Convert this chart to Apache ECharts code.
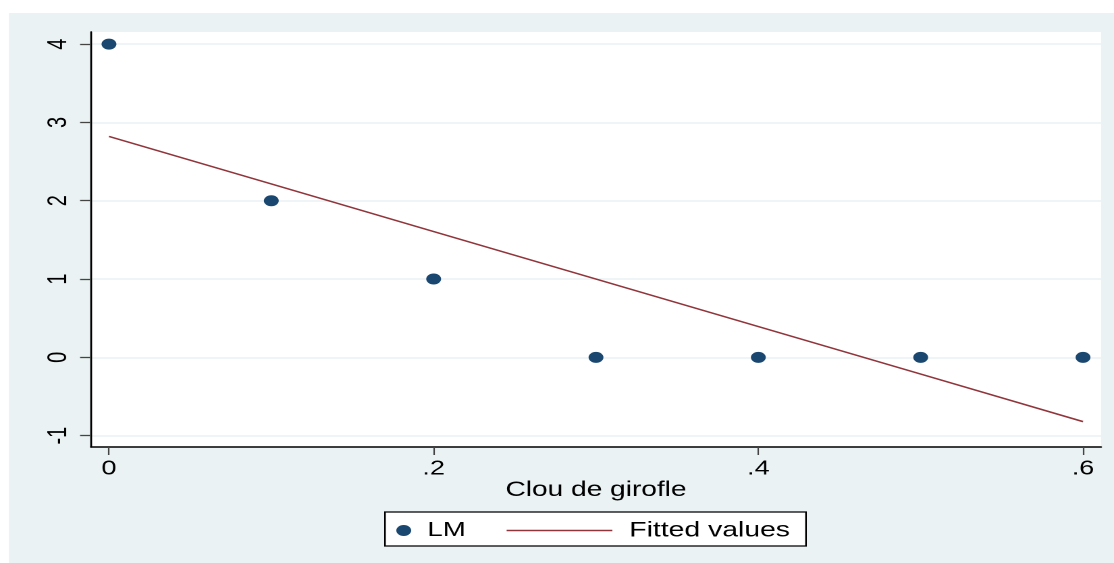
<!DOCTYPE html>
<html>
<head>
<meta charset="utf-8">
<title>Clou de girofle</title>
<script src="https://cdn.jsdelivr.net/npm/echarts@6/dist/echarts.min.js"></script>
<style>
  html, body { margin: 0; padding: 0; background: #ffffff; overflow: hidden; }
  /* the graph is laid out on a narrower canvas and stretched to the full width */
  #chart { width: 825px; height: 563px; transform: scaleX(1.35030); transform-origin: 0 0; }
</style>
</head>
<body>
<div id="chart"></div>
<script>
// Dose of clove (x) and observed LM score
const doses = [0, 0.1, 0.2, 0.3, 0.4, 0.5, 0.6];
const lmValues = [4, 2, 1, 0, 0, 0, 0];
// Linear fit evaluated at each dose
const fittedValues = [2.821, 2.214, 1.607, 1.000, 0.393, -0.214, -0.821];

// Tick positions and their labels
const xTicks = [0, 0.2, 0.4, 0.6];
const xTickLabels = ['0', '.2', '.4', '.6'];
const yTicks = [-1, 0, 1, 2, 3, 4];
const yTickLabels = ['-1', '0', '1', '2', '3', '4'];

const seriesNames = ['LM', 'Fitted values'];
const xTitle = 'Clou de girofle';

const FONT = '"Liberation Sans", Arial, sans-serif';
const NAVY = '#1a476f';
const MAROON = '#90353b';
const BG = '#eaf2f3';

const chart = echarts.init(document.getElementById('chart'), null, { renderer: 'canvas', devicePixelRatio: 2 });

function labelFor(ticks, labels) {
  return function (v) {
    for (let i = 0; i < ticks.length; i++) {
      if (Math.abs(ticks[i] - v) < 1e-9) return labels[i];
    }
    return '';
  };
}

chart.setOption({
  animation: false,
  backgroundColor: '#ffffff',
  textStyle: { fontFamily: FONT, color: '#000' },
  graphic: [
    {
      type: 'rect', z: -10, silent: true,
      shape: { x: 6.67, y: 13, width: 830, height: 560 },
      style: { fill: BG }
    },
    {
      type: 'rect', z: 1, silent: true,
      shape: { x: 285.1, y: 512, width: 311.8, height: 34 },
      style: { fill: '#ffffff', stroke: '#000000', lineWidth: 1.2 }
    }
  ],
  grid: {
    left: 67.4, right: 9.6, top: 32, bottom: 116,
    show: true, backgroundColor: '#ffffff', borderWidth: 0,
    containLabel: false, outerBoundsMode: 'none'
  },
  xAxis: {
    type: 'value',
    min: -0.01106, max: 0.6111,
    name: xTitle,
    nameLocation: 'middle',
    nameGap: 33,
    nameMoveOverlap: false,
    nameTextStyle: { fontFamily: FONT, fontSize: 20.8, color: '#000' },
    axisLine: { show: true, onZero: false, lineStyle: { color: '#000', width: 1.6 } },
    axisTick: { show: true, length: 8, customValues: xTicks, lineStyle: { color: '#444', width: 1.1 } },
    axisLabel: {
      customValues: xTicks, margin: 12,
      fontFamily: FONT, fontSize: 20, color: '#000',
      formatter: labelFor(xTicks, xTickLabels)
    },
    splitLine: { show: false }
  },
  yAxis: {
    type: 'value',
    min: -1.145, max: 4.155,
    axisLine: { show: true, onZero: false, lineStyle: { color: '#000', width: 1.4 } },
    axisTick: { show: true, length: 8.1, customValues: yTicks, lineStyle: { color: '#444', width: 1.3 } },
    axisLabel: {
      customValues: yTicks, margin: 14, rotate: 90,
      fontFamily: FONT, fontSize: 20, color: '#000',
      formatter: labelFor(yTicks, yTickLabels)
    },
    splitLine: { show: true, lineStyle: { color: BG, width: 1.6 } }
  },
  legend: [
    {
      data: [seriesNames[0]],
      left: 293.5, top: 520, padding: 0,
      itemWidth: 25, itemHeight: 11, icon: 'circle',
      selectedMode: false, z: 5,
      itemStyle: { color: NAVY, opacity: 1 },
      textStyle: { fontFamily: FONT, fontSize: 20.5, color: '#000' }
    },
    {
      data: [seriesNames[1]],
      left: 375.2, top: 520, padding: 0,
      itemWidth: 78.3, itemHeight: 1.5, icon: 'rect',
      selectedMode: false, z: 5,
      itemStyle: { color: MAROON },
      textStyle: { fontFamily: FONT, fontSize: 21, color: '#000', padding: [0, 0, 0, 7.5] }
    }
  ],
  series: [
    {
      name: seriesNames[0],
      type: 'scatter',
      data: doses.map((d, i) => [d, lmValues[i]]),
      symbol: 'circle',
      symbolSize: 11,
      itemStyle: { color: NAVY, opacity: 1 },
      z: 3
    },
    {
      name: seriesNames[1],
      type: 'line',
      data: doses.map((d, i) => [d, fittedValues[i]]),
      showSymbol: false,
      symbol: 'none',
      lineStyle: { color: MAROON, width: 1.5 },
      itemStyle: { color: MAROON },
      z: 2
    }
  ]
});
</script>
</body>
</html>
